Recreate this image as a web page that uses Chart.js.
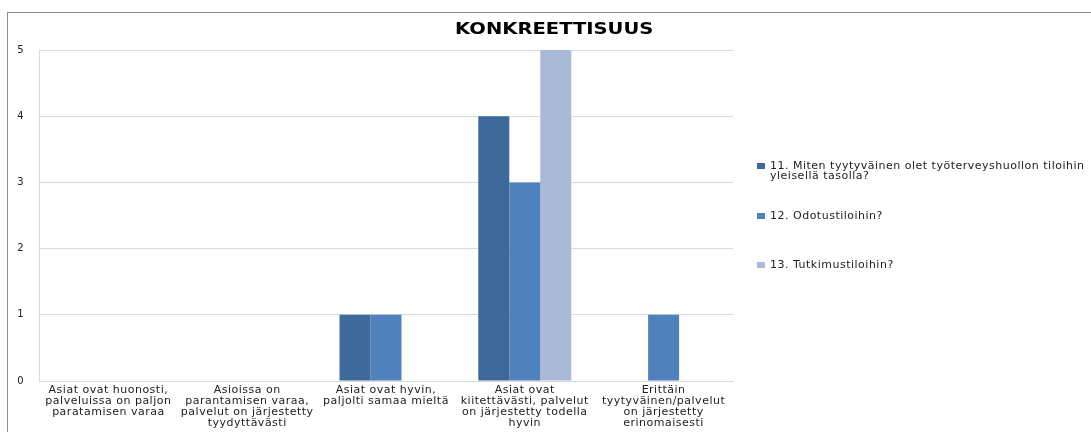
<!DOCTYPE html>
<html>
<head>
<meta charset="utf-8">
<script src="https://cdn.jsdelivr.net/npm/chart.js@4"></script>
<style>
  body { margin: 0; background: #fff; }
  #wrap { position: relative; width: 1091px; height: 432px; overflow: hidden; }
  #frame { position: absolute; left: 7px; top: 12px; width: 1120px; height: 460px; border: 1px solid #8c8c8c; }
  #box { position: absolute; left: 0; top: 0; width: 1091px; height: 432px; }
  #otsikko { position: absolute; left: 455px; top: 20px; font: bold 15px "DejaVu Sans"; line-height: 18px;
             color: #000; white-space: nowrap; transform-origin: 0 0; z-index: 2; }
</style>
</head>
<body>
<div id="wrap">
  <div id="frame"></div>
  <div id="box"><canvas id="konkr"></canvas></div>
  <div id="otsikko"></div>
</div>
<script>
// otsikko ja data
const chartTitle = 'KONKREETTISUUS';

const categories = [
    ['Asiat ovat huonosti,', 'palveluissa on paljon', 'paratamisen varaa'],
    ['Asioissa on', 'parantamisen varaa,', 'palvelut on järjestetty', 'tyydyttävästi'],
    ['Asiat ovat hyvin,', 'paljolti samaa mieltä'],
    ['Asiat ovat', 'kiitettävästi, palvelut', 'on järjestetty todella', 'hyvin'],
    ['Erittäin', 'tyytyväinen/palvelut', 'on järjestetty', 'erinomaisesti']
];

const seriesNames = [
    ['11. Miten tyytyväinen olet työterveyshuollon tiloihin', 'yleisellä tasolla?'],
    ['12. Odotustiloihin?'],
    ['13. Tutkimustiloihin?']
];

const q11 = [0, 0, 1, 4, 0];
const q12 = [0, 0, 1, 3, 1];
const q13 = [0, 0, 0, 5, 0];

const yTicks = [0, 1, 2, 3, 4, 5];

const colors = ['#3e699b', '#4f81bd', '#aab9d7'];

// otsikko venytetään alkuperäisen leveyteen
let t = document.getElementById('otsikko');
t.textContent = chartTitle;
t.style.transform = 'scaleX(' + (198 / t.offsetWidth).toFixed(3) + ')';

//=======================================================================================
// leveämpi kirjainväli kuten alkuperäisessä kuvassa ====================================
//=======================================================================================
const wideText = {
    id: 'wideText',
    beforeDraw(chart) { chart.ctx.letterSpacing = '0.5px'; },
    afterDraw(chart) { chart.ctx.letterSpacing = '0px'; }
};

//=======================================================================================
// selite piirretään itse oikealle (Excel-tyylinen sijoittelu) ==========================
//=======================================================================================
const sideLegend = {
    id: 'sideLegend',
    afterDraw(chart) {
        let ctx = chart.ctx;
        ctx.save();
        let rows = [166, 216, 265];
        ctx.letterSpacing = '0.5px';
        ctx.font = '11px "DejaVu Sans"';
        ctx.textBaseline = 'middle';
        ctx.textAlign = 'left';
        chart.data.datasets.forEach((ds, i) => {
            let y = rows[i];
            ctx.fillStyle = ds.backgroundColor;
            ctx.fillRect(757, y - 3, 8, 6);
            ctx.fillStyle = '#222';
            ds.label.forEach((line, k) => {
                ctx.fillText(line, 770, y + k * 10);
            });
        });
        ctx.restore();
    }
};

let ctx = document.getElementById('konkr');

let config = {
    type: 'bar',
    data: {
        labels: categories,
        datasets: [
            { label: seriesNames[0], data: q11, backgroundColor: colors[0] },
            { label: seriesNames[1], data: q12, backgroundColor: colors[1] },
            { label: seriesNames[2], data: q13, backgroundColor: colors[2] }
        ]
    },
    options: {
        responsive: true,
        maintainAspectRatio: false,
        animation: false,
        layout: { padding: { top: 50, right: 358, left: 0, bottom: 0 } },
        datasets: { bar: { categoryPercentage: 0.67, barPercentage: 1.0 } },
        plugins: {
            legend: { display: false },
            title: { display: false },
            tooltip: { enabled: false }
        },
        scales: {
            x: {
                grid: { display: false, drawTicks: false },
                border: { display: true, color: '#d9d9d9' },
                ticks: {
                    padding: 4,
                    maxRotation: 0,
                    autoSkip: false,
                    color: '#222',
                    font: { family: 'DejaVu Sans', size: 11, lineHeight: 1.0 }
                },
                afterFit: (s) => { s.height = 51; }
            },
            y: {
                min: 0,
                max: 5,
                afterBuildTicks: (s) => { s.ticks = yTicks.map(v => ({ value: v })); },
                grid: { color: '#d9d9d9', drawTicks: false },
                border: { display: true, color: '#d9d9d9' },
                ticks: {
                    padding: 15,
                    color: '#222',
                    font: { family: 'DejaVu Sans', size: 10 }
                },
                afterFit: (s) => { s.width = 39; }
            }
        }
    },
    plugins: [wideText, sideLegend]
};

let konkrChart = new Chart(ctx, config);
</script>
</body>
</html>
